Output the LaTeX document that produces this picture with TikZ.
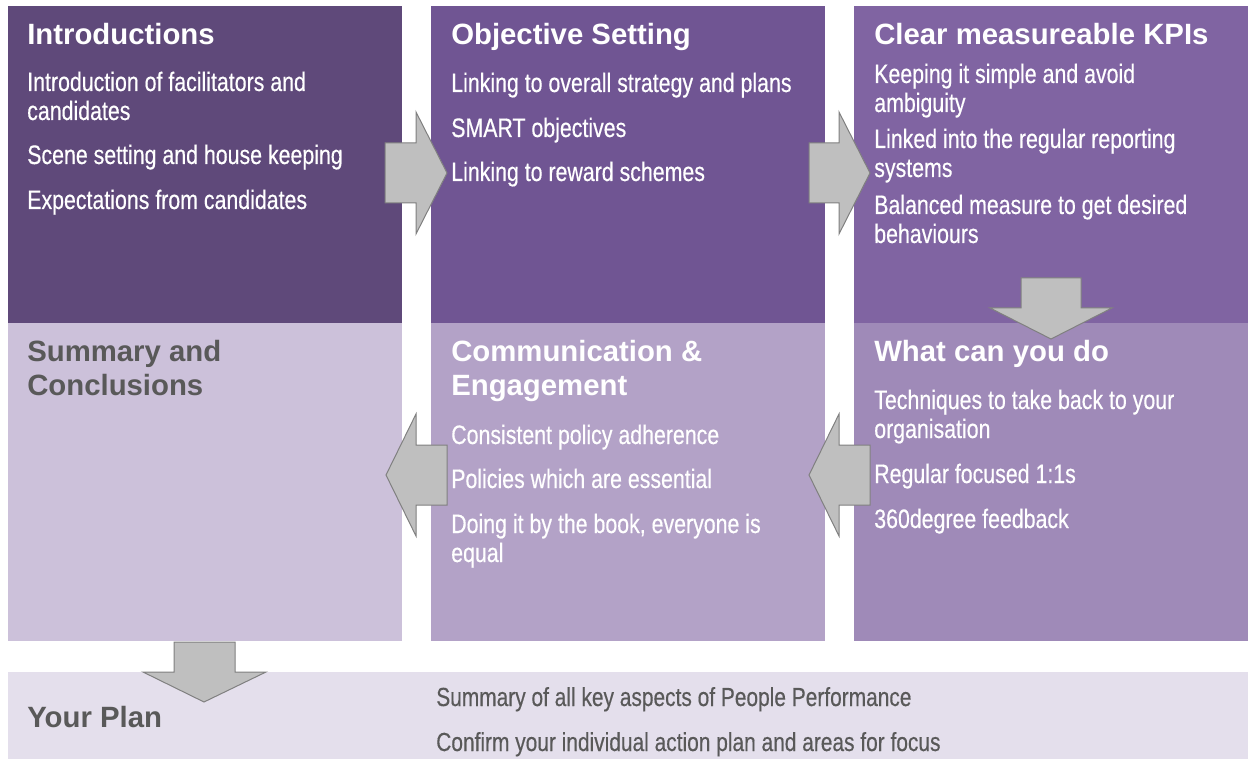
\documentclass[tikz,border=0pt]{standalone}
\usepackage{fontspec}
\setmainfont{Liberation Sans}
\newfontfamily\narrowfont[FakeStretch=0.80,FakeBold=0.4]{Liberation Sans}
\usetikzlibrary{positioning}
\definecolor{ppdark}{RGB}{95,73,122}
\definecolor{ppmid}{RGB}{112,85,147}
\definecolor{pplight}{RGB}{128,100,162}
\definecolor{ppsummary}{RGB}{204,193,218}
\definecolor{ppcomm}{RGB}{179,162,199}
\definecolor{ppwhat}{RGB}{159,138,184}
\definecolor{ppplan}{RGB}{228,223,236}
\definecolor{ppgrey}{RGB}{89,89,89}
\definecolor{arrowfill}{RGB}{191,191,191}
\definecolor{arrowline}{RGB}{128,128,128}

\begin{document}
\begin{tikzpicture}[
    x=0.75pt, y=-0.75pt,
    box/.style={rectangle, inner sep=0, anchor=north west, minimum width=295.5pt, minimum height=238pt},
    head/.style={anchor=base west, inner sep=0, text=white, font=\fontsize{22}{26}\selectfont\bfseries},
    item/.style={anchor=base west, inner sep=0, text=white, font=\narrowfont\fontsize{20}{24}\selectfont},
    planitem/.style={item, text=ppgrey, font=\narrowfont\fontsize{19.6}{23}\selectfont},
    blockarrow/.style={fill=arrowfill, draw=arrowline, line width=0.75pt, line join=miter}
]
\useasboundingbox (0,0) rectangle (1250,759);

% Top row
\node[box, fill=ppdark] (introbox) at (8,6) {};
\node[box, fill=ppmid] (objbox) at (431,6) {};
\node[box, fill=pplight] (kpibox) at (854,6) {};

% Bottom row
\node[box, fill=ppsummary] (summarybox) at (8,323) {};
\node[box, fill=ppcomm] (commbox) at (431,323) {};
\node[box, fill=ppwhat] (whatbox) at (854,323) {};

% Plan bar
\node[rectangle, inner sep=0, anchor=north west, minimum width=930pt, minimum height=65.25pt, fill=ppplan] (planbox) at (8,672) {};

% Introductions
\node[head] (introhead) at (27,45) {Introductions};
\node[item] (intro1) at (27,91) {Introduction of facilitators and};
\node[item] (intro2) at (27,120) {candidates};
\node[item] (intro3) at (27,164) {Scene setting and house keeping};
\node[item] (intro4) at (27,209) {Expectations from candidates};

% Objective Setting
\node[head] (objhead) at (451,45) {Objective Setting};
\node[item] (obj1) at (451,92) {Linking to overall strategy and plans};
\node[item] (obj2) at (451,137) {SMART objectives};
\node[item] (obj3) at (451,181) {Linking to reward schemes};

% Clear measureable KPIs
\node[head] (kpihead) at (874,45) {Clear measureable KPIs};
\node[item] (kpi1) at (874,83) {Keeping it simple and avoid};
\node[item] (kpi2) at (874,112) {ambiguity};
\node[item] (kpi3) at (874,148) {Linked into the regular reporting};
\node[item] (kpi4) at (874,177) {systems};
\node[item] (kpi5) at (874,214) {Balanced measure to get desired};
\node[item] (kpi6) at (874,243) {behaviours};

% Summary and Conclusions
\node[head, text=ppgrey] (summaryhead1) at (27,362) {Summary and};
\node[head, text=ppgrey] (summaryhead2) at (27,395) {Conclusions};

% Communication & Engagement
\node[head] (commhead1) at (451,362) {Communication \&};
\node[head] (commhead2) at (451,395) {Engagement};
\node[item] (comm1) at (451,444) {Consistent policy adherence};
\node[item] (comm2) at (451,488) {Policies which are essential};
\node[item] (comm3) at (451,533) {Doing it by the book, everyone is};
\node[item] (comm4) at (451,562) {equal};

% What can you do
\node[head] (whathead) at (874,362) {What can you do};
\node[item] (what1) at (874,409) {Techniques to take back to your};
\node[item] (what2) at (874,438) {organisation};
\node[item] (what3) at (874,483) {Regular focused 1:1s};
\node[item] (what4) at (874,528) {360degree feedback};

% Your Plan
\node[head, text=ppgrey] (planhead) at (27,727) {Your Plan};
\node[planitem] (plan1) at (436,706) {Summary of all key aspects of People Performance};
\node[planitem] (plan2) at (436,751) {Confirm your individual action plan and areas for focus};

% Block arrows
\draw[blockarrow] (385,143) -- (416,143) -- (416,112) -- (447,173) -- (416,234) -- (416,203) -- (385,203) -- cycle;
\draw[blockarrow] (809,143) -- (839,143) -- (839,112) -- (870,173) -- (839,234) -- (839,203) -- (809,203) -- cycle;
\draw[blockarrow] (1021,278) -- (1081,278) -- (1081,308) -- (1112,308) -- (1051,339) -- (990,308) -- (1021,308) -- cycle;
\draw[blockarrow] (447,445) -- (416,445) -- (416,414) -- (386,475) -- (416,536) -- (416,505) -- (447,505) -- cycle;
\draw[blockarrow] (870,445) -- (839,445) -- (839,414) -- (809,475) -- (839,536) -- (839,505) -- (870,505) -- cycle;
\draw[blockarrow] (174,642) -- (235,642) -- (235,672) -- (266,672) -- (204,702) -- (143,672) -- (174,672) -- cycle;

\end{tikzpicture}
\end{document}
